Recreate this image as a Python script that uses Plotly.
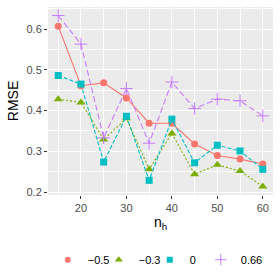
import plotly.graph_objects as go

n_h = [15, 20, 25, 30, 35, 40, 45, 50, 55, 60]
rmse_m05 = [0.607, 0.461, 0.468, 0.431, 0.369, 0.369, 0.318, 0.290, 0.281, 0.269]
rmse_m03 = [0.428, 0.420, 0.329, 0.381, 0.256, 0.344, 0.244, 0.267, 0.252, 0.214]
rmse_0 = [0.486, 0.465, 0.274, 0.386, 0.229, 0.379, 0.272, 0.315, 0.301, 0.256]
rmse_066 = [0.633, 0.563, 0.333, 0.454, 0.320, 0.470, 0.405, 0.428, 0.424, 0.387]
labels = ["\u22120.5", "\u22120.3", "0", "0.66"]

colors = ["#F8766D", "#7CAE00", "#00BFC4", "#C77CFF"]
dashes = ["solid", "2px,2px", "4px,2px", "6px,3px"]
symbols = ["circle", "triangle-up", "square", "cross-thin"]
sizes = [7, 8, 7, 9]
series = [rmse_m05, rmse_m03, rmse_0, rmse_066]

fig = go.Figure()
for ys, lab, c, d, s, sz in zip(series, labels, colors, dashes, symbols, sizes):
    mk = dict(symbol=s, size=sz, color=c, line=dict(color=c, width=1 if s == "cross-thin" else 0))
    fig.add_trace(go.Scatter(
        x=n_h, y=ys, name=lab, mode="lines+markers", showlegend=False,
        line=dict(color=c, width=1.1, dash=d), marker=mk,
    ))
    # legend key (marker only, like the compact ggplot key)
    fig.add_trace(go.Scatter(
        x=[None], y=[None], name=lab, mode="markers", showlegend=True,
        marker=dict(symbol=s, size=sz - 1, color=c, line=mk["line"]),
    ))
# empty spacer entry so the last legend label is not clipped
fig.add_trace(go.Scatter(x=[None], y=[None], name="\u00a0", mode="markers",
                         showlegend=True, hoverinfo="skip",
                         marker=dict(opacity=0, color="white")))

font = "Liberation Sans, Arial, sans-serif"
fig.update_layout(
    width=280, height=280,
    margin=dict(l=48, r=7, t=7, b=85, autoexpand=False),
    paper_bgcolor="white", plot_bgcolor="#EBEBEB",
    font=dict(family=font, size=11, color="#4D4D4D"),
    showlegend=True,
    legend=dict(orientation="h", x=-0.001, xanchor="left",
                y=-0.344, yanchor="middle",
                font=dict(size=11, color="black"), itemwidth=30, tracegroupgap=0,
                entrywidth=6, entrywidthmode="pixels",
                bgcolor="rgba(0,0,0,0)"),
)
fig.update_xaxes(
    range=[12.75, 62.25], tickvals=[20, 30, 40, 50, 60], automargin=False,
    showgrid=True, gridcolor="white", gridwidth=1.1,
    minor=dict(tickvals=[15, 25, 35, 45, 55], showgrid=True, gridcolor="white", gridwidth=0.5, ticks=""),
    ticks="outside", ticklen=3, tickcolor="#333333", tickwidth=1,
    tickfont=dict(size=11, color="#4D4D4D"), zeroline=False,
    title=dict(text="n<sub>h</sub>", font=dict(size=14, color="black"), standoff=2),
)
fig.update_yaxes(
    range=[0.193, 0.654], tickvals=[0.2, 0.3, 0.4, 0.5, 0.6], automargin=False,
    showgrid=True, gridcolor="white", gridwidth=1.1,
    minor=dict(tickvals=[0.25, 0.35, 0.45, 0.55, 0.65], showgrid=True, gridcolor="white", gridwidth=0.5, ticks=""),
    ticks="outside", ticklen=3, tickcolor="#333333", tickwidth=1,
    tickfont=dict(size=11, color="#4D4D4D"), zeroline=False,
    title=dict(text="RMSE", font=dict(size=14, color="black"), standoff=4),
)
fig.write_html("out.html", config={"displayModeBar": False},
               post_script="document.body.style.margin='0';")
